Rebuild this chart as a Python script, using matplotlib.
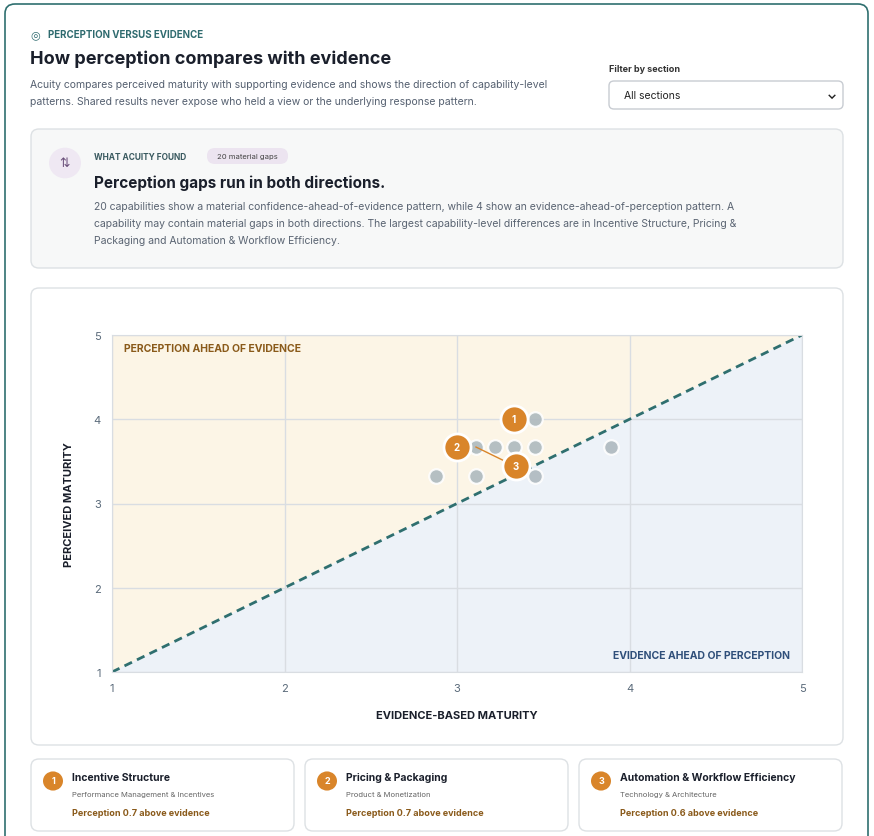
import matplotlib
matplotlib.use("Agg")
import matplotlib.pyplot as plt
from matplotlib.patches import FancyBboxPatch, Polygon, Circle

plt.rcParams['font.family'] = ['Inter', 'DejaVu Sans']

gray_x = [3.45, 3.11, 3.22, 3.33, 3.45, 3.89, 2.88, 3.11, 3.45]
gray_y = [4.0, 3.67, 3.67, 3.67, 3.67, 3.67, 3.33, 3.33, 3.33]
top_ids = ["1", "2", "3"]
top_x = [3.33, 3.0, 3.11]
top_y = [4.0, 3.67, 3.67]
top_names = ["Incentive Structure", "Pricing & Packaging", "Automation & Workflow Efficiency"]
top_sections = ["Performance Management & Incentives", "Product & Monetization", "Technology & Architecture"]
top_gaps = ["Perception 0.7 above evidence", "Perception 0.7 above evidence", "Perception 0.6 above evidence"]
ticks = [1, 2, 3, 4, 5]

W, H = 874, 837
fig = plt.figure(figsize=(W/100, H/100), dpi=100)
fig.patch.set_facecolor("white")

def px(x, y):
    return x / W, 1 - y / H

def box(x0, y0, x1, y1, fc, ec, lw=1, r=8):
    a, b = px(x0, y1)
    p = FancyBboxPatch((a, b), (x1-x0)/W, (y1-y0)/H, boxstyle=f"round,pad=0,rounding_size={r/W}",
                       transform=fig.transFigure, fc=fc, ec=ec, lw=lw, zorder=0)
    fig.patches.append(p)

def txt(x, y, s, **kw):
    fig.text(*px(x, y), s, **kw)

box(5, 5, 868, 850, "white", "#2f6f6f", 1.2, 10)
txt(48, 35, "PERCEPTION VERSUS EVIDENCE", fontsize=7, color="#2f6b6f", weight="bold", va="center")
txt(30, 35, "◎", fontsize=8, color="#2f6b6f", va="center")
txt(30, 59, "How perception compares with evidence", fontsize=13, color="#1a1f2b", weight="bold", va="center")
txt(30, 85, "Acuity compares perceived maturity with supporting evidence and shows the direction of capability-level",
    fontsize=7.5, color="#556070", va="center")
txt(30, 102, "patterns. Shared results never expose who held a view or the underlying response pattern.",
    fontsize=7.5, color="#556070", va="center")
txt(609, 69, "Filter by section", fontsize=6.5, color="#333", weight="bold", va="center")
box(609, 82, 843, 110, "white", "#c8ccd2", 1, 5)
txt(624, 96, "All sections", fontsize=7.5, color="#222", va="center")
txt(832, 96, "⌄", fontsize=9, color="#222", va="center", ha="center", weight="bold")

box(31, 130, 843, 269, "#f7f8f8", "#dde1e4", 1, 8)
fig.patches.append(Circle(px(65, 164), 16/W, transform=fig.transFigure, fc="#efe8f3", ec="none"))
txt(65, 164, "⇅", fontsize=9, color="#6a4f7a", ha="center", va="center")
txt(94, 157, "WHAT ACUITY FOUND", fontsize=6, color="#3a5a60", weight="bold", va="center")
box(207, 149, 288, 165, "#ece4f0", "none", 0, 8)
txt(247, 157, "20 material gaps", fontsize=5.5, color="#444", ha="center", va="center")
txt(94, 183, "Perception gaps run in both directions.", fontsize=11, color="#1a1f2b", weight="bold", va="center")
for i, line in enumerate(["20 capabilities show a material confidence-ahead-of-evidence pattern, while 4 show an evidence-ahead-of-perception pattern. A",
                          "capability may contain material gaps in both directions. The largest capability-level differences are in Incentive Structure, Pricing &",
                          "Packaging and Automation & Workflow Efficiency."]):
    txt(94, 207 + i*17, line, fontsize=7.5, color="#5a6472", va="center")

box(31, 289, 843, 746, "white", "#dde1e4", 1, 8)

l, b = px(112, 673)
ax = fig.add_axes([l, b, 690/W, 337/H])
ax.set_zorder(10)
ax.set_xlim(1, 5); ax.set_ylim(1, 5)
ax.add_patch(Polygon([(1, 1), (1, 5), (5, 5)], fc="#fcf5e6", ec="none", zorder=0))
ax.add_patch(Polygon([(1, 1), (5, 1), (5, 5)], fc="#edf2f8", ec="none", zorder=0))
ax.set_xticks(ticks); ax.set_yticks(ticks)
ax.grid(True, color="#d9dde2", lw=1, zorder=1)
for s in ax.spines.values():
    s.set_color("#d9dde2")
ax.tick_params(length=0, colors="#5a6a7a", labelsize=8, pad=8)
ax.plot([1, 5], [1, 5], ls=(0, (3, 2)), color="#2f6f6f", lw=2, zorder=2)
ax.text(1.07, 4.85, "PERCEPTION AHEAD OF EVIDENCE", fontsize=7.5, color="#8a5a1a", weight="bold", va="center", zorder=3)
ax.text(4.93, 1.2, "EVIDENCE AHEAD OF PERCEPTION", fontsize=7.5, color="#2f4f7a", weight="bold", va="center", ha="right", zorder=3)
ax.scatter(gray_x, gray_y, s=110, c="#aeb9bf", edgecolors="white", linewidths=1.5, alpha=0.9, zorder=3)
offsets = [(0, 0), (0, 0), (0.23, -0.23)]
for i, (xx, yy) in enumerate(zip(top_x, top_y)):
    dx, dy = offsets[i]
    if dx or dy:
        ax.plot([xx, xx+dx], [yy, yy+dy], color="#d9852a", lw=1, zorder=4)
    ax.scatter([xx+dx], [yy+dy], s=380, c="#d9852a", edgecolors="white", linewidths=2, zorder=5)
    ax.text(xx+dx, yy+dy, top_ids[i], color="white", fontsize=7, weight="bold", ha="center", va="center", zorder=6)
ax.set_xlabel("EVIDENCE-BASED MATURITY", fontsize=8, weight="bold", color="#1a1f2b", labelpad=12)
ax.set_ylabel("PERCEIVED MATURITY", fontsize=8, weight="bold", color="#1a1f2b", labelpad=14)

for i in range(3):
    x0 = 31 + i*274
    box(x0, 760, x0 + 263, 832, "white", "#dde1e4", 1, 8)
    fig.patches.append(Circle(px(x0 + 22, 782), 10/W, transform=fig.transFigure, fc="#d9852a", ec="none"))
    txt(x0 + 22, 782, top_ids[i], fontsize=6.5, color="white", weight="bold", ha="center", va="center")
    txt(x0 + 41, 778, top_names[i], fontsize=7.5, color="#1a1f2b", weight="bold", va="center")
    txt(x0 + 41, 795, top_sections[i], fontsize=5.5, color="#666", va="center")
    txt(x0 + 41, 814, top_gaps[i], fontsize=6.5, color="#8a5a1a", weight="bold", va="center")

fig.savefig("out.png", dpi=100)
